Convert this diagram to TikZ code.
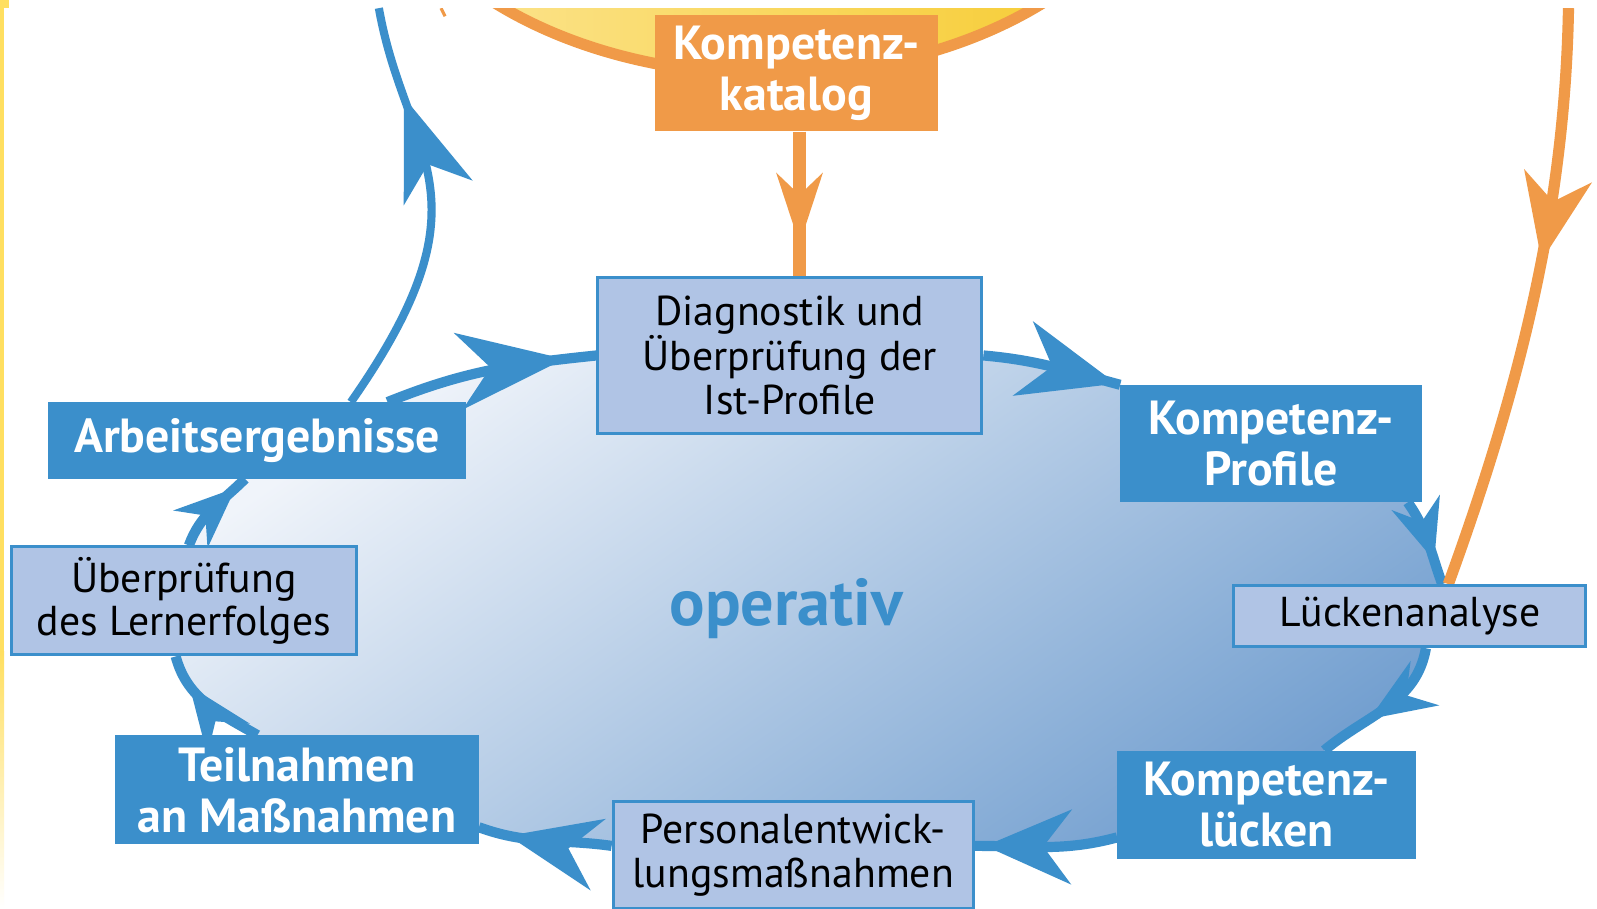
\documentclass[tikz,border=0pt]{standalone}
\usepackage{fontspec}
\setmainfont{PT Sans}
\usetikzlibrary{arrows.meta,decorations.markings,calc}
\pgfdeclarelayer{bg}
\pgfsetlayers{bg,main}
\definecolor{cblue}{HTML}{3B8FCB}
\definecolor{clight}{HTML}{B0C4E5}
\definecolor{corange}{HTML}{F09A48}
\definecolor{yelA}{HTML}{FCE79A}
\definecolor{yelB}{HTML}{F6C928}
\definecolor{blobA}{HTML}{F0F4FA}
\definecolor{blobB}{HTML}{74A0D0}
\definecolor{yedge}{HTML}{FFDF60}
\tikzset{
  darkbox/.style={fill=cblue, text=white, font=\bfseries\fontsize{47}{50}\selectfont, align=center, inner sep=0pt},
  lightbox/.style={fill=clight, draw=cblue, line width=3pt, text=black, font=\fontsize{41}{43}\selectfont, align=center, inner sep=0pt},
  cyc/.style={draw=cblue, line width=10pt},
  arr/.style n args={4}{postaction={decorate}, decoration={markings, mark=at position #1 with {\arrow{Stealth[length=#2,width=#3,inset=#4,line width=0pt]}}}}
}
\begin{document}
\begin{tikzpicture}[x=1pt,y=1pt]
\useasboundingbox (0,0) rectangle (1568,-892);
% boxes
\node[darkbox, fill=corange, minimum width=278pt, minimum height=114pt] (kat) at (782,-72) {Kompetenz-\\katalog};
\node[lightbox, minimum width=377pt, minimum height=154pt] (diag) at (775.5,-349) {Diagnostik und\\Überprüfung der\\Ist-Profile};
\node[darkbox, minimum width=296pt, minimum height=115pt] (kprof) at (1248,-435.5) {Kompetenz-\\Profile};
\node[lightbox, minimum width=346pt, minimum height=60pt] (luck) at (1384,-605) {Lückenanalyse};
\node[darkbox, minimum width=293pt, minimum height=106pt] (kluck) at (1243.5,-790) {Kompetenz-\\lücken};
\node[lightbox, minimum width=354pt, minimum height=105pt] (pers) at (779,-839.5) {Personalentwick-\\lungsmaßnahmen};
\node[darkbox, minimum width=357pt, minimum height=107pt] (teil) at (291.5,-775.5) {Teilnahmen\\an Maßnahmen};
\node[lightbox, minimum width=339pt, minimum height=106pt] (uber) at (180.5,-590) {Überprüfung\\des Lernerfolges};
\node[darkbox, minimum width=411pt, minimum height=75pt] (arb) at (252.5,-432.5) {Arbeitsergebnisse};
\node[text=cblue, font=\bfseries\fontsize{65}{70}\selectfont, inner sep=0pt] (op) at (772,-598) {operativ};
\coordinate (topB) at (372,-8);
\coordinate (topO) at (1540,-8);
\begin{pgfonlayer}{bg}
\fill[white] (0,0) rectangle (1568,-892);
\fill[yedge] (0,0) rectangle (4,-640);
\shade[top color=yedge, bottom color=white] (0,-640) rectangle (4,-892);
\fill[yedge] (0,0) rectangle (9,-8);
\begin{scope}
\clip (0,-8) rectangle (1568,-892);
\shade[left color=yelA, right color=yelB] (755,189) ellipse [x radius=400pt, y radius=267pt];
\draw[corange, line width=11pt] (755,189) ellipse [x radius=395pt, y radius=262pt];
\draw[corange, line width=3pt] (433,-8) -- (437,-16);
\end{scope}
% blob
\path[top color=blobA, bottom color=blobB, shading angle=35]
  (diag.west) -- (diag.east) to[out=-5,in=165] (kprof.north west)
  .. controls (1250,-400) and (1360,-450) .. ($(kprof.south east)+(-14,0)$)
  to[out=-55,in=110] ($(luck.north)+(32,0)$) -- ($(luck.south)+(16,0)$)
  to[out=-100,in=40] ($(kluck.north east)+(-90,0)$)
  .. controls (1220,-790) and (1140,-815) .. ($(kluck.south west)+(0,21)$)
  to[out=195,in=0] ($(pers.north east)+(0,-45)$) -- ($(pers.north west)+(0,-45)$)
  to[out=172,in=-20] ($(teil.south east)+(0,17)$)
  .. controls (400,-790) and (300,-750) .. ($(teil.north west)+(140,0)$)
  to[out=150,in=-75] ($(uber.south)+(-8,0)$) -- ($(uber.north)+(5,0)$)
  to[out=70,in=-135] ($(arb.south)+(-12,0)$)
  .. controls (290,-440) and (330,-410) .. ($(arb.north)+(128,0)$)
  to[out=22,in=186] (diag.west) -- cycle;
% cycle connectors
\draw[cyc, arr={0.97}{95pt}{76pt}{30pt}] (diag.east) to[out=-5,in=165] (kprof.north west);
\draw[cyc, arr={0.72}{60pt}{50pt}{20pt}] ($(kprof.south east)+(-14,0)$) to[out=-55,in=110] ($(luck.north)+(32,0)$);
\draw[cyc, arr={0.63}{65pt}{52pt}{22pt}] ($(luck.south)+(16,0)$) to[out=-100,in=40] ($(kluck.north east)+(-90,0)$);
\draw[cyc, arr={0.93}{85pt}{74pt}{28pt}] ($(kluck.south west)+(0,21)$) to[out=195,in=0] ($(pers.north east)+(0,-45)$);
\draw[cyc, arr={0.77}{90pt}{72pt}{30pt}] ($(pers.north west)+(0,-45)$) to[out=172,in=-20] ($(teil.south east)+(0,17)$);
\draw[cyc, arr={0.72}{65pt}{52pt}{22pt}] ($(teil.north west)+(140,0)$) to[out=150,in=-75] ($(uber.south)+(-8,0)$);
\draw[cyc, arr={0.85}{60pt}{50pt}{20pt}] ($(uber.north)+(5,0)$) to[out=70,in=-135] ($(arb.south)+(-12,0)$);
\draw[cyc, arr={0.85}{105pt}{76pt}{32pt}] ($(arb.north)+(128,0)$) to[out=22,in=186] (diag.west);
% outgoing
\draw[draw=cblue, line width=8pt, arr={0.78}{100pt}{72pt}{30pt}] ($(arb.north)+(92,0)$) .. controls +(55:250) and +(-80:150) .. (topB);
\draw[draw=corange, line width=11pt, arr={0.43}{85pt}{68pt}{26pt}] (topO) .. controls +(-91:200) and +(70:200) .. ($(luck.north)+(38,0)$);
\draw[draw=corange, line width=12pt, arr={0.78}{70pt}{46pt}{22pt}] ($(kat.south)+(3,0)$) -- ($(diag.north)+(9.5,0)$);
\end{pgfonlayer}
\end{tikzpicture}
\end{document}
